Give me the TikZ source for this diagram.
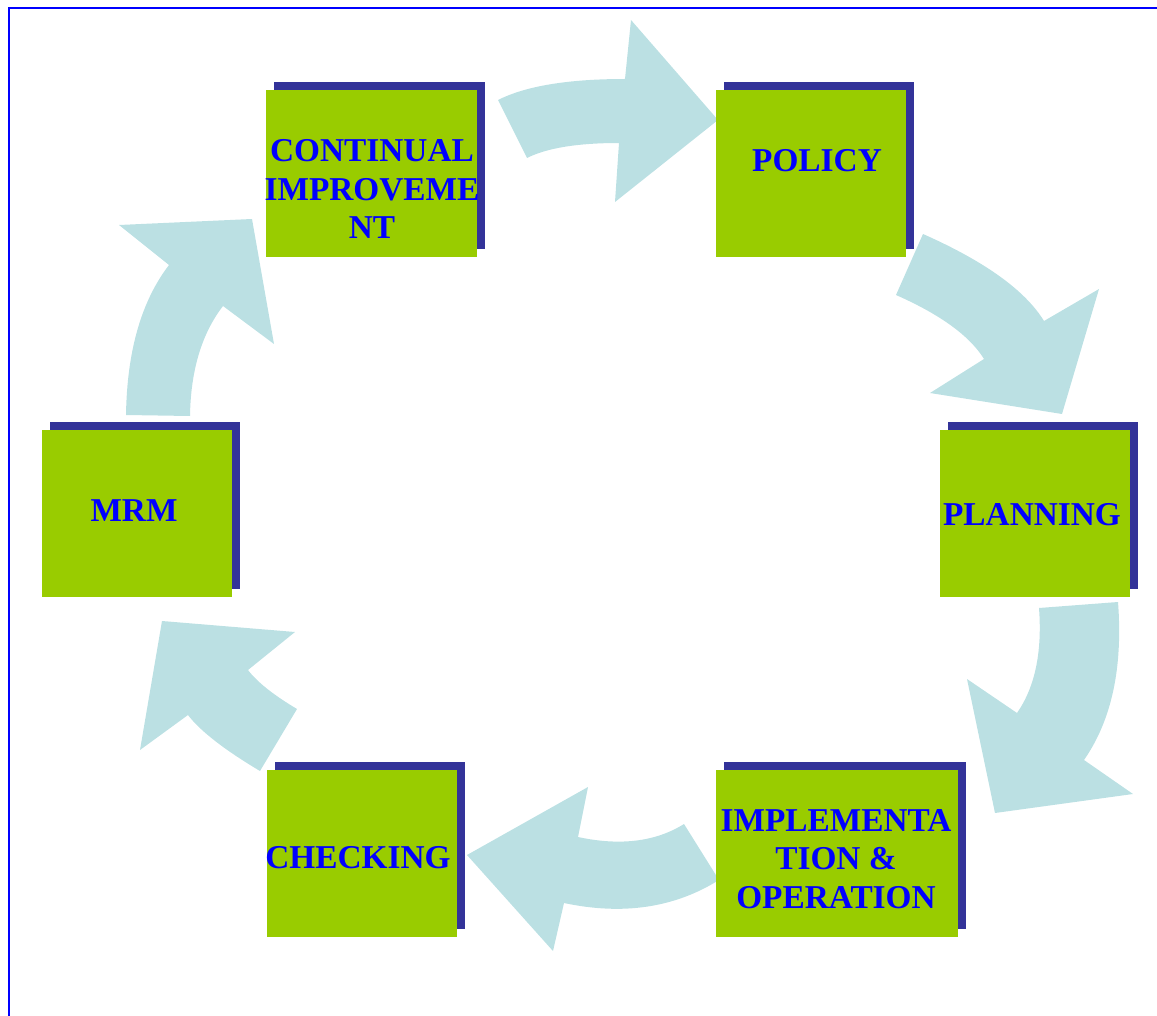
\documentclass[tikz,border=0pt]{standalone}
\usepackage{fontspec}
\setmainfont{Liberation Serif}
\usetikzlibrary{shadows}

\definecolor{arrowblue}{HTML}{BBE0E3}
\definecolor{boxgreen}{HTML}{99CC00}
\definecolor{shadowblue}{HTML}{333399}
\definecolor{textblue}{HTML}{0000FF}

\tikzset{
  stagebox/.style={fill=boxgreen, inner sep=0pt, outer sep=0pt,
    minimum width=142.5pt, minimum height=125.25pt,
    general shadow={fill=shadowblue, shadow xshift=6pt, shadow yshift=6pt}},
  stagetext/.style={text=textblue, font=\bfseries\fontsize{25}{29}\selectfont,
    align=center, inner sep=0pt},
  cyclearrow/.style={fill=arrowblue}
}

\begin{document}
\begin{tikzpicture}[x=0.75pt, y=-0.75pt]
  \useasboundingbox (0,0) rectangle (1157,1016);
  % frame
  \draw[textblue, line width=1.6pt] (1160,8) -- (9,8) -- (9,1020);

  % curved arrows
  \fill[cyclearrow] (498,100) .. controls (525.7,86) and (568,79) .. (625,79)
    -- (631,20) -- (718,120) -- (615,202) -- (619,143)
    .. controls (577.5,143) and (546.8,148) .. (527,158) -- cycle;
  \fill[cyclearrow] (923,234) .. controls (984.9,261.4) and (1025.2,290.4) .. (1044,321)
    -- (1099,289) -- (1062,414) -- (930,393) -- (984,359)
    .. controls (969.9,336.1) and (940.6,314.7) .. (896,295) -- cycle;
  \fill[cyclearrow] (1118,602) .. controls (1123,667.5) and (1111.7,720.2) .. (1084,760)
    -- (1133,794) -- (995,813) -- (967,679) -- (1017,713)
    .. controls (1035,687.1) and (1042.3,652.1) .. (1039,608) -- cycle;
  \fill[cyclearrow] (684,824) -- (719,880) .. controls (674.4,907.9) and (622.7,915.5) .. (564,903)
    -- (553,951) -- (467,855) -- (588,787) -- (578,837)
    .. controls (620.3,846.1) and (655.7,841.7) .. (684,824) -- cycle;
  \fill[cyclearrow] (260,771) -- (297,709) .. controls (273.5,695) and (257.1,682) .. (248,670)
    -- (295,632) -- (162,621) -- (140,750) -- (188,715)
    .. controls (200.1,730.9) and (224.1,749.6) .. (260,771) -- cycle;
  \fill[cyclearrow] (126,415) -- (190,416) .. controls (190.7,370.4) and (201.7,333.7) .. (223,306)
    -- (274,344) -- (252,219) -- (119,225) -- (169,265)
    .. controls (141.3,301.1) and (127,351.1) .. (126,415) -- cycle;

  % stages
  \node[stagebox, minimum width=158.25pt] (improve) at (371.5,173.5) {};
  \node[stagebox] (policy) at (811,173.5) {};
  \node[stagebox] (planning) at (1035,513.5) {};
  \node[stagebox, minimum width=181.5pt] (implement) at (837,853.5) {};
  \node[stagebox] (checking) at (362,853.5) {};
  \node[stagebox] (mrm) at (137,513.5) {};

  \node[stagetext] (improvetext) at (372,189) {CONTINUAL\\IMPROVEME\\NT};
  \node[stagetext] (policytext) at (817,161) {POLICY};
  \node[stagetext] (planningtext) at (1032,515) {PLANNING};
  \node[stagetext] (implementtext) at (836,859) {IMPLEMENTA\\TION \&\\OPERATION};
  \node[stagetext] (checkingtext) at (358,858) {CHECKING};
  \node[stagetext] (mrmtext) at (134,511) {MRM};
\end{tikzpicture}
\end{document}
